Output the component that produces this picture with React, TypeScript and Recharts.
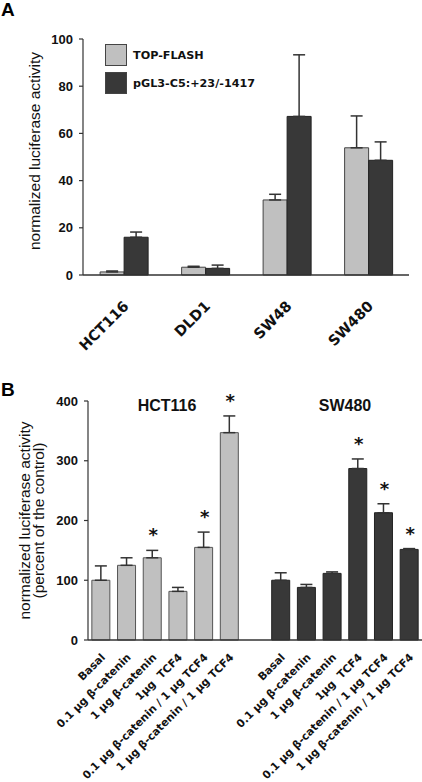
import { Bar, BarChart, Cell, ErrorBar, LabelList, Legend, XAxis, YAxis } from "recharts";

// panel A
const cellLines = ["HCT116", "DLD1", "SW48", "SW480"];
const topFlash = [1.3, 3.3, 31.8, 53.9];
const topFlashErr = [0.4, 0.4, 2.4, 13.5];
const pgl3 = [16, 2.8, 67.2, 48.6];
const pgl3Err = [2.2, 1.4, 26.1, 7.8];
const ticksA = [0, 20, 40, 60, 80, 100];

// panel B
const treatments = [
	"Basal",
	"0.1 μg β-catenin",
	"1 μg β-catenin",
	"1μg  TCF4",
	"0.1 μg β-catenin / 1 μg TCF4",
	"1 μg β-catenin / 1 μg TCF4",
];
const hct116 = [100, 125, 137.6, 81.4, 155, 347];
const hct116Err = [24, 12.6, 12.4, 6.6, 25.6, 28];
const hct116Sig = [false, false, true, false, true, true];
const sw480 = [100, 88, 111.5, 287, 213, 151.6];
const sw480Err = [12.5, 5, 2.5, 16, 15, 1.4];
const sw480Sig = [false, false, false, true, true, true];
const ticksB = [0, 100, 200, 300, 400];

const LIGHT = "#c0c0c0";
const DARK = "#383838";
const AXIS = "#333";

const dataA = cellLines.map((name, i) => ({
	name,
	top: topFlash[i],
	topErr: [0, topFlashErr[i]],
	pgl: pgl3[i],
	pglErr: [0, pgl3Err[i]],
}));

const rowsB = (group: string, values: number[], errs: number[], sig: boolean[]) =>
	values.map((v, i) => ({
		key: `${group}${i}`,
		label: treatments[i],
		group,
		value: v,
		errUp: errs[i],
		err: [0, errs[i]],
		sig: sig[i],
	}));

const dataB = [
	...rowsB("h", hct116, hct116Err, hct116Sig),
	{ key: "gap", label: "", group: "", value: null, errUp: 0, err: [0, 0], sig: false },
	...rowsB("s", sw480, sw480Err, sw480Sig),
];

const tickFont = { fontFamily: "Liberation Sans", fontWeight: 700, fontSize: 13, fill: "#111" };

const TickA = ({ x, y, payload }: any) => (
	<text
		x={x + 6}
		y={y + 32}
		transform={`rotate(-45 ${x + 6} ${y + 32})`}
		textAnchor="end"
		fontFamily="DejaVu Sans"
		fontWeight={700}
		fontSize={14.5}
		fill="#111"
	>
		{payload.value}
	</text>
);

const TickB = ({ x, y, payload }: any) => {
	const row = dataB.find((d) => d.key === payload.value);
	return (
		<text
			x={x + 5}
			y={y + 18}
			transform={`rotate(-45 ${x + 5} ${y + 18})`}
			textAnchor="end"
			fontFamily="DejaVu Sans"
			fontWeight={700}
			fontSize={10.8}
			fill="#111"
			style={{ whiteSpace: "pre" }}
		>
			{row ? row.label : ""}
		</text>
	);
};

const LabelA = ({ viewBox }: any) => {
	const cy = viewBox.y + viewBox.height / 2 - 6;
	return (
		<text
			x={40}
			y={cy}
			transform={`rotate(-90 40 ${cy})`}
			textAnchor="middle"
			fontFamily="Liberation Sans"
			fontSize={15.5}
			fill="#111"
		>
			normalized luciferase activity
		</text>
	);
};

const LabelB = ({ viewBox }: any) => {
	const cy = viewBox.y + viewBox.height / 2;
	return (
		<g fontFamily="Liberation Sans" fontSize={15.5} fill="#111" textAnchor="middle">
			<text x={30} y={cy} transform={`rotate(-90 30 ${cy})`}>
				normalized luciferase activity
			</text>
			<text x={44} y={cy} transform={`rotate(-90 44 ${cy})`}>
				(percent of the control)
			</text>
		</g>
	);
};

// asterisk above the error bar of significant bars
const Star = (props: any) => {
	const { x, y, width, height, value } = props;
	const row = dataB.find((d) => d.key === value);
	if (!row || !row.sig || row.value == null) return null;
	const scale = Number(height) / row.value;
	const top = Number(y) - row.errUp * scale;
	return (
		<text
			x={Number(x) + Number(width) / 2 + 1}
			y={top - 9}
			textAnchor="middle"
			fontFamily="DejaVu Sans"
			fontWeight={700}
			fontSize={18}
			fill="#111"
		>
			*
		</text>
	);
};

const LegendA = () => {
	const items = [
		{ name: "TOP-FLASH", color: LIGHT },
		{ name: "pGL3-C5:+23/-1417", color: DARK },
	];
	return (
		<div>
			{items.map((it) => (
				<div key={it.name} style={{ display: "flex", alignItems: "center", height: 28 }}>
					<div
						style={{
							width: 20,
							height: 20,
							background: it.color,
							border: "1px solid #444",
							marginRight: 6,
						}}
					/>
					<span
						style={{
							fontFamily: "DejaVu Sans",
							fontWeight: 700,
							fontSize: 11.2,
							color: "#111",
						}}
					>
						{it.name}
					</span>
				</div>
			))}
		</div>
	);
};

const heading = {
	position: "absolute" as const,
	fontFamily: "Liberation Sans",
	fontWeight: 700,
	fontSize: 19,
	color: "#000",
	lineHeight: 1,
};

const groupTitle = {
	position: "absolute" as const,
	top: 398,
	width: 100,
	textAlign: "center" as const,
	fontFamily: "Liberation Sans",
	fontWeight: 700,
	fontSize: 16,
	color: "#111",
	lineHeight: 1,
};

export default function App() {
	return (
		<div style={{ position: "absolute", left: 0, top: 0, width: 422, height: 782, background: "#fff" }}>
			<div style={{ ...heading, left: 1, top: 0 }}>A</div>
			<div style={{ ...heading, left: 1, top: 380 }}>B</div>

			<div style={{ position: "absolute", left: 0, top: 0 }}>
				<BarChart
					width={422}
					height={380}
					data={dataA}
					margin={{ top: 39, right: 13, bottom: 25, left: 0 }}
					barCategoryGap="21%"
					barGap={0}
				>
					<XAxis
						dataKey="name"
						height={80}
						tickLine={false}
						tickSize={0}
						tickMargin={0}
						interval={0}
						tick={<TickA />}
						stroke={AXIS}
						strokeWidth={1.5}
					/>
					<YAxis
						width={83}
						domain={[0, 100]}
						ticks={ticksA}
						tickSize={4}
						tickMargin={6}
						tick={tickFont}
						stroke={AXIS}
						strokeWidth={1.2}
						label={<LabelA />}
					/>
					<Legend
						layout="vertical"
						align="center"
						verticalAlign="middle"
						content={<LegendA />}
						wrapperStyle={{ top: 41, left: 105, width: "auto" }}
					/>
					<Bar dataKey="top" fill={LIGHT} stroke="#444" strokeWidth={1} isAnimationActive={false}>
						<ErrorBar dataKey="topErr" direction="y" width={6} stroke={AXIS} strokeWidth={1.5} />
					</Bar>
					<Bar dataKey="pgl" fill={DARK} stroke="#222" strokeWidth={1} isAnimationActive={false}>
						<ErrorBar dataKey="pglErr" direction="y" width={6} stroke={AXIS} strokeWidth={1.5} />
					</Bar>
				</BarChart>
			</div>

			<div style={{ position: "absolute", left: 0, top: 380 }}>
				<BarChart
					width={422}
					height={402}
					data={dataB}
					margin={{ top: 21, right: 0, bottom: 0, left: 0 }}
					barCategoryGap="15%"
				>
					<XAxis
						dataKey="key"
						height={142}
						tickLine={false}
						tickSize={0}
						tickMargin={0}
						interval={0}
						tick={<TickB />}
						stroke={AXIS}
						strokeWidth={1.5}
					/>
					<YAxis
						width={88}
						domain={[0, 400]}
						ticks={ticksB}
						tickSize={4}
						tickMargin={6}
						tick={tickFont}
						stroke={AXIS}
						strokeWidth={1.2}
						label={<LabelB />}
					/>
					<Bar dataKey="value" isAnimationActive={false} strokeWidth={1}>
						{dataB.map((d) => (
							<Cell
								key={d.key}
								fill={d.group === "h" ? LIGHT : DARK}
								stroke={d.group === "h" ? "#555" : "#222"}
							/>
						))}
						<ErrorBar dataKey="err" direction="y" width={6} stroke={AXIS} strokeWidth={1.5} />
						<LabelList dataKey="key" content={<Star />} />
					</Bar>
				</BarChart>
			</div>

			<div style={{ ...groupTitle, left: 117 }}>HCT116</div>
			<div style={{ ...groupTitle, left: 295 }}>SW480</div>
		</div>
	);
}
